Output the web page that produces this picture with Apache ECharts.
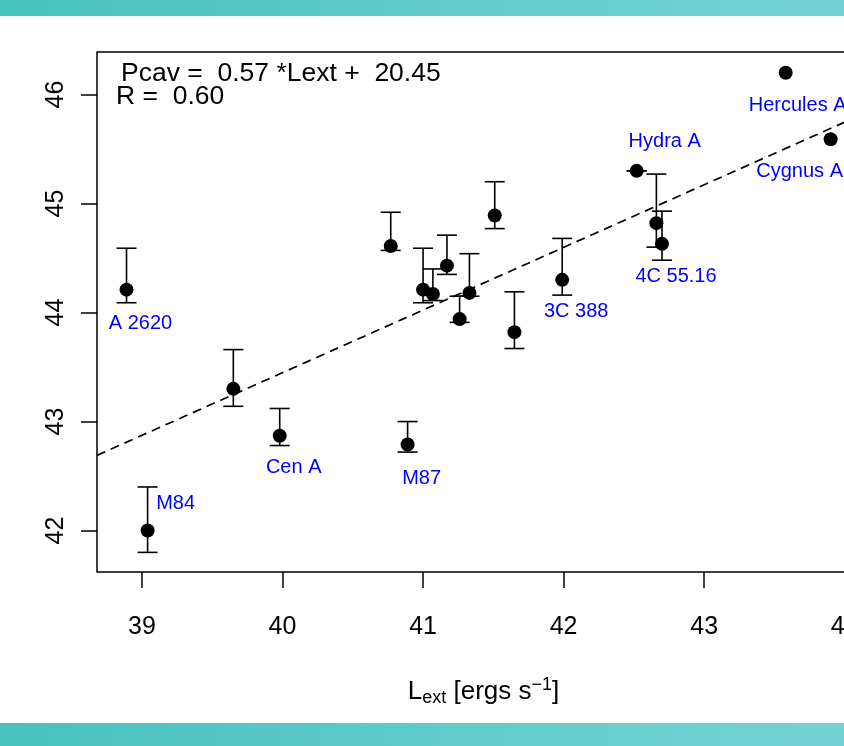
<!DOCTYPE html>
<html>
<head>
<meta charset="utf-8">
<title>Pcav vs Lext</title>
<script src="https://cdn.jsdelivr.net/npm/echarts@6/dist/echarts.min.js"></script>
<style>
    html, body { margin: 0; padding: 0; background: #fff; }
    #main { width: 844px; height: 746px; }
</style>
</head>
<body>
<div id="main"></div>
<script>
// source names ('' = no label)
var sourceNames = ['A 2620', 'M84', '', 'Cen A', 'M87', '', '', '', '', '', '', '', '', '3C 388', 'Hydra A', '', '4C 55.16', 'Hercules A', 'Cygnus A'];
// log Lext
var lextVals = [38.89, 39.04, 39.65, 39.98, 40.89, 40.77, 41.00, 41.07, 41.17, 41.33, 41.26, 41.51, 41.65, 41.99, 42.52, 42.66, 42.70, 43.58, 43.90];
// log Pcav and its error range
var pcavVals = [44.21, 42.00, 43.30, 42.87, 42.79, 44.61, 44.21, 44.17, 44.43, 44.18, 43.94, 44.89, 43.82, 44.30, 45.30, 44.82, 44.63, 46.20, 45.59];
var pcavLow  = [44.09, 41.80, 43.14, 42.78, 42.72, 44.57, 44.09, 44.11, 44.35, 44.15, 43.91, 44.77, 43.67, 44.16, 45.30, 44.60, 44.48, null, null];
var pcavHigh = [44.59, 42.40, 43.66, 43.12, 43.00, 44.92, 44.59, 44.40, 44.71, 44.54, 44.15, 45.20, 44.19, 44.68, 45.30, 45.27, 44.93, null, null];

// dashed fit line end points
var fitLine = [[38.68, 42.69], [44.18, 45.85]];

var xTicks = [39, 40, 41, 42, 43, 44];
var yTicks = [42, 43, 44, 45, 46];

var fitText = 'Pcav =  0.57 *Lext +  20.45';
var corrText = 'R =  0.60';

// where each name sits relative to its dot
var labelOffsets = {
    'A 2620': [14, 34],
    'M84': [28, -27],
    'Cen A': [14, 32],
    'M87': [14, 34],
    '3C 388': [14, 32],
    'Hydra A': [28, -29],
    '4C 55.16': [14, 33],
    'Hercules A': [12, 33],
    'Cygnus A': [-31, 32]
};

var font = 'Liberation Sans, Arial, Helvetica, sans-serif';

var points = [];
var bars = [];
for (var i = 0; i < lextVals.length; i++) {
    var item = { value: [lextVals[i], pcavVals[i]], name: sourceNames[i] };
    if (sourceNames[i] !== '') {
        item.label = {
            show: true,
            formatter: sourceNames[i],
            position: 'inside',
            offset: labelOffsets[sourceNames[i]],
            color: '#0000ff',
            opacity: 1,
            fontSize: 20,
            fontFamily: font
        };
    }
    points.push(item);
    if (pcavLow[i] !== null) {
        bars.push([lextVals[i], pcavLow[i], pcavHigh[i]]);
    }
}

function renderBar(params, api) {
    var x = api.value(0);
    var lo = api.coord([x, api.value(1)]);
    var hi = api.coord([x, api.value(2)]);
    var half = 10;
    var st = { stroke: '#000', lineWidth: 1.6 };
    return {
        type: 'group',
        children: [
            { type: 'line', shape: { x1: hi[0], y1: hi[1], x2: lo[0], y2: lo[1] }, style: st },
            { type: 'line', shape: { x1: hi[0] - half, y1: hi[1], x2: hi[0] + half, y2: hi[1] }, style: st },
            { type: 'line', shape: { x1: lo[0] - half, y1: lo[1], x2: lo[0] + half, y2: lo[1] }, style: st }
        ]
    };
}

var chart = echarts.init(document.getElementById('main'));

var bandColor = {
    type: 'linear', x: 0, y: 0, x2: 1, y2: 0,
    colorStops: [{ offset: 0, color: '#48c2bf' }, { offset: 1, color: '#76d3d3' }]
};

var axisRich = {
    n: { fontSize: 26, color: '#000', fontFamily: font },
    sub: { fontSize: 18, color: '#000', fontFamily: font, padding: [13, 0, 0, 0] },
    sup: { fontSize: 18, color: '#000', fontFamily: font, padding: [0, 0, 13, 0] }
};

var option = {
    backgroundColor: '#fff',
    animation: false,
    textStyle: { fontFamily: font },
    grid: {
        left: 97, top: 52, width: 773, height: 520,
        containLabel: false,
        outerBoundsMode: 'none',
        show: true, borderColor: '#000', borderWidth: 1.5, backgroundColor: 'transparent'
    },
    xAxis: {
        type: 'value',
        min: 38.68,
        max: 44.18,
        splitLine: { show: false },
        axisLine: { show: false },
        axisTick: { show: true, length: 16, inside: false, customValues: xTicks, lineStyle: { color: '#000', width: 1.5 } },
        axisLabel: { customValues: xTicks, margin: 43, fontSize: 25, color: '#000', fontFamily: font },
        name: '{n|L}{sub|ext}{n| [ergs s}{sup|\u22121}{n|]}',
        nameLocation: 'middle',
        nameGap: 104,
        nameTextStyle: { rich: axisRich }
    },
    yAxis: {
        type: 'value',
        min: 41.62,
        max: 46.39,
        splitLine: { show: false },
        axisLine: { show: false },
        axisTick: { show: true, length: 16, inside: false, customValues: yTicks, lineStyle: { color: '#000', width: 1.5 } },
        axisLabel: { customValues: yTicks, rotate: 90, margin: 28, fontSize: 25, color: '#000', fontFamily: font },
        name: '{n|P}{sub|cav}{n| [ergs s}{sup|\u22121}{n|]}',
        nameLocation: 'middle',
        nameRotate: 90,
        nameGap: 99,
        nameTextStyle: { rich: axisRich }
    },
    graphic: [
        { type: 'rect', left: 0, top: 0, shape: { width: 844, height: 16 }, style: { fill: bandColor }, silent: true },
        { type: 'rect', left: 0, top: 723, shape: { width: 844, height: 23 }, style: { fill: bandColor }, silent: true },
        { type: 'text', left: 121, top: 60, style: { text: fitText, fontSize: 26.5, fill: '#000', fontFamily: font } },
        { type: 'text', left: 116, top: 83, style: { text: corrText, fontSize: 26.5, fill: '#000', fontFamily: font } }
    ],
    series: [
        {
            type: 'line',
            data: fitLine,
            symbol: 'none',
            lineStyle: { color: '#000', width: 1.7, type: [9, 6] },
            silent: true,
            z: 1
        },
        {
            type: 'custom',
            data: bars,
            renderItem: renderBar,
            z: 2
        },
        {
            type: 'scatter',
            data: points,
            symbol: 'circle',
            symbolSize: 14,
            itemStyle: { color: '#000', opacity: 1 },
            z: 3
        }
    ]
};

chart.setOption(option);
</script>
</body>
</html>
